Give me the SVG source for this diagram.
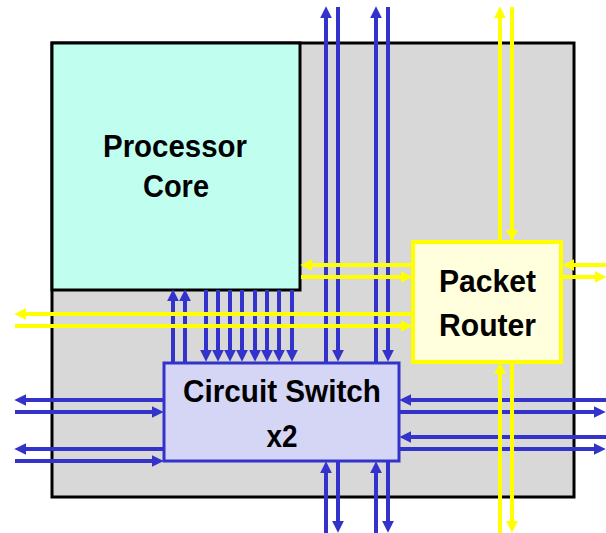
<svg xmlns="http://www.w3.org/2000/svg" width="606" height="533" viewBox="0 0 606 533">
<style>
.lbl{font-family:"Liberation Sans",Arial,sans-serif;font-weight:bold;font-size:32px;fill:#000;text-anchor:middle}
.b{stroke:#3333CC;stroke-width:4;fill:none}
.y{stroke:#FFFF00;stroke-width:4;fill:none}
.ba{stroke:#3333CC;stroke-width:4;fill:none;marker-end:url(#ab)}
.ya{stroke:#FFFF00;stroke-width:4;fill:none;marker-end:url(#ay)}
</style>
<defs>
<marker id="ab" markerUnits="userSpaceOnUse" markerWidth="12" markerHeight="12" viewBox="0 0 11 11" refX="3" refY="5.5" orient="auto">
<path d="M0,0 L11,5.5 L0,11 z" fill="#3333CC"/>
</marker>
<marker id="ay" markerUnits="userSpaceOnUse" markerWidth="12" markerHeight="12" viewBox="0 0 11 11" refX="3" refY="5.5" orient="auto">
<path d="M0,0 L11,5.5 L0,11 z" fill="#FFFF00"/>
</marker>
</defs>
<g id="chip">
<rect x="52" y="43" width="522" height="454" fill="#D8D8D8" stroke="#000" stroke-width="3"/>
</g>
<g id="processor-core">
<rect x="52" y="43" width="248" height="247" fill="#C0FFF0" stroke="#000" stroke-width="3"/>
<text class="lbl" x="175" y="157" textLength="144" lengthAdjust="spacingAndGlyphs">Processor</text>
<text class="lbl" x="176" y="197" textLength="66" lengthAdjust="spacingAndGlyphs">Core</text>
</g>
<g id="connectors">
<!-- blue: top verticals -->
<line class="ba" x1="326" y1="362" x2="326" y2="15"/>
<line class="ba" x1="338" y1="7" x2="338" y2="353"/>
<line class="ba" x1="376" y1="362" x2="376" y2="15"/>
<line class="ba" x1="388" y1="7" x2="388" y2="353"/>
<!-- blue: bottom verticals -->
<line class="ba" x1="326" y1="533" x2="326" y2="470"/>
<line class="ba" x1="338" y1="462" x2="338" y2="524"/>
<line class="ba" x1="376" y1="533" x2="376" y2="470"/>
<line class="ba" x1="388" y1="462" x2="388" y2="524"/>
<!-- blue: core-switch -->
<line class="ba" x1="173" y1="362" x2="173" y2="298"/>
<line class="ba" x1="185" y1="362" x2="185" y2="298"/>
<line class="ba" x1="206" y1="290" x2="206" y2="353"/>
<line class="ba" x1="218" y1="290" x2="218" y2="353"/>
<line class="ba" x1="230" y1="290" x2="230" y2="353"/>
<line class="ba" x1="242" y1="290" x2="242" y2="353"/>
<line class="ba" x1="255" y1="290" x2="255" y2="353"/>
<line class="ba" x1="267" y1="290" x2="267" y2="353"/>
<line class="ba" x1="279" y1="290" x2="279" y2="353"/>
<line class="ba" x1="292" y1="290" x2="292" y2="353"/>
<!-- blue: left horizontals -->
<line class="ba" x1="164" y1="400" x2="23" y2="400"/>
<line class="ba" x1="15" y1="412" x2="155" y2="412"/>
<line class="ba" x1="164" y1="449" x2="23" y2="449"/>
<line class="ba" x1="15" y1="461" x2="155" y2="461"/>
<!-- blue: right horizontals -->
<line class="ba" x1="606" y1="400" x2="408" y2="400"/>
<line class="ba" x1="399" y1="412" x2="597" y2="412"/>
<line class="ba" x1="606" y1="437" x2="408" y2="437"/>
<line class="ba" x1="399" y1="449" x2="597" y2="449"/>
<!-- yellow: top verticals -->
<line class="ya" x1="500" y1="241" x2="500" y2="15"/>
<line class="ya" x1="512" y1="7" x2="512" y2="233"/>
<!-- yellow: bottom verticals -->
<line class="ya" x1="500" y1="533" x2="500" y2="371"/>
<line class="ya" x1="512" y1="363" x2="512" y2="524"/>
<!-- yellow: core-router -->
<line class="ya" x1="413" y1="265" x2="309" y2="265"/>
<line class="ya" x1="301" y1="277" x2="404" y2="277"/>
<!-- yellow: left -->
<line class="ya" x1="413" y1="314" x2="23" y2="314"/>
<line class="ya" x1="15" y1="326" x2="404" y2="326"/>
<!-- yellow: right -->
<line class="ya" x1="606" y1="265" x2="571" y2="265"/>
<line class="ya" x1="562" y1="277" x2="598" y2="277"/>
</g>
<g id="packet-router">
<rect x="413" y="242" width="148" height="120" fill="#FFFFDD" stroke="#FFFF00" stroke-width="4"/>
<text class="lbl" x="487.5" y="291.5" textLength="97" lengthAdjust="spacingAndGlyphs">Packet</text>
<text class="lbl" x="487.5" y="336" textLength="97" lengthAdjust="spacingAndGlyphs">Router</text>
</g>
<g id="circuit-switch">
<rect x="164" y="363" width="235" height="98" fill="#D5D5F5" stroke="#3333CC" stroke-width="3"/>
<text class="lbl" x="282" y="402" textLength="198" lengthAdjust="spacingAndGlyphs">Circuit Switch</text>
<text class="lbl" x="282" y="446.5" textLength="31" lengthAdjust="spacingAndGlyphs">x2</text>
</g>
</svg>
